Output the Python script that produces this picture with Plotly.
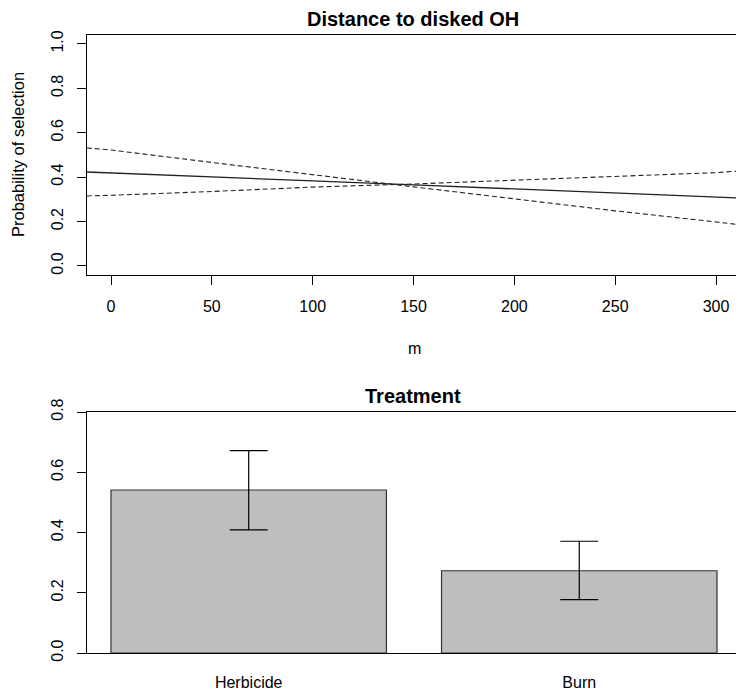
import plotly.graph_objects as go

# ---- data: top panel (predicted probability vs distance) ----
dist_m = [-12, 0, 50, 100, 150, 200, 250, 300, 312]
prob_fit = [0.423, 0.419, 0.401, 0.383, 0.365, 0.347, 0.329, 0.311, 0.306]
prob_ci_a = [0.531, 0.522, 0.466, 0.410, 0.356, 0.302, 0.248, 0.198, 0.185]
prob_ci_b = [0.315, 0.318, 0.335, 0.355, 0.369, 0.386, 0.405, 0.420, 0.428]
x_ticks = [0, 50, 100, 150, 200, 250, 300]
y_ticks_top = [0.0, 0.2, 0.4, 0.6, 0.8, 1.0]

# ---- data: bottom panel (treatment) ----
treatments = ["Herbicide", "Burn"]
treat_pos = [0.7, 1.9]
treat_prob = [0.541, 0.273]
treat_upper = [0.672, 0.371]
treat_lower = [0.409, 0.177]
y_ticks_bot = [0.0, 0.2, 0.4, 0.6, 0.8]

W, H = 736, 696
FONT = "Liberation Sans, Arial, sans-serif"

def px_x(p):
    return p / W

def px_y(p):
    return 1 - p / H

fig = go.Figure()

line_col = "#222222"
fig.add_trace(go.Scatter(x=dist_m, y=prob_fit, mode="lines",
                         line=dict(color=line_col, width=1.3),
                         xaxis="x", yaxis="y", showlegend=False))
fig.add_trace(go.Scatter(x=dist_m, y=prob_ci_a, mode="lines",
                         line=dict(color=line_col, width=1.1, dash="5px,3px"),
                         xaxis="x", yaxis="y", showlegend=False))
fig.add_trace(go.Scatter(x=dist_m, y=prob_ci_b, mode="lines",
                         line=dict(color=line_col, width=1.1, dash="5px,3px"),
                         xaxis="x", yaxis="y", showlegend=False))

err_plus = [u - v for u, v in zip(treat_upper, treat_prob)]
err_minus = [v - l for v, l in zip(treat_prob, treat_lower)]
fig.add_trace(go.Bar(x=treat_pos, y=treat_prob, width=[1, 1],
                     marker=dict(color="#BEBEBE", line=dict(color="#333333", width=1.2)),
                     error_y=dict(type="data", symmetric=False, array=err_plus,
                                  arrayminus=err_minus, color="black",
                                  thickness=1.2, width=19),
                     xaxis="x2", yaxis="y2", showlegend=False))

axis_common = dict(showgrid=False, zeroline=False, showline=True,
                   linecolor="black", linewidth=1,
                   tickfont=dict(family=FONT, size=16, color="black"),
                   ticks="outside", ticklen=9, tickcolor="black", tickwidth=1)

fig.update_layout(
    width=W, height=H,
    margin=dict(l=0, r=0, t=0, b=0, autoexpand=False),
    paper_bgcolor="white", plot_bgcolor="white",
    bargap=0,
    xaxis=dict(axis_common, domain=[px_x(87), 1], range=[-11.9, 309.9],
               tickvals=x_ticks, mirror=True, anchor="y",
               ticklabelstandoff=8),
    yaxis=dict(axis_common, domain=[px_y(275), px_y(35)], range=[-0.041, 1.04],
               tickvals=y_ticks_top, tickformat=".1f", tickangle=-90,
               anchor="x", mirror=False, ticklabelstandoff=8),
    xaxis2=dict(axis_common, domain=[px_x(87), 1], range=[0.113, 2.469],
                tickvals=treat_pos, ticktext=treatments, ticks="", mirror=True,
                anchor="y2", ticklabelstandoff=15),
    yaxis2=dict(axis_common, domain=[px_y(653), px_y(412)], range=[0, 0.8],
                tickvals=y_ticks_bot, tickformat=".1f", tickangle=-90,
                anchor="x2", mirror=False, ticklabelstandoff=8),
)

ann = [
    dict(text="<b>Distance to disked OH</b>", x=px_x(412.5), y=px_y(19), size=20),
    dict(text="<b>Treatment</b>", x=px_x(412.5), y=px_y(396), size=20),
    dict(text="m", x=px_x(414), y=px_y(348), size=16),
]
for a in ann:
    fig.add_annotation(text=a["text"], x=a["x"], y=a["y"], xref="paper", yref="paper",
                       xanchor="center", yanchor="middle", showarrow=False,
                       font=dict(family=FONT, size=a["size"], color="black"))
fig.add_annotation(text="Probability of selection", x=px_x(18), y=px_y(155),
                   xref="paper", yref="paper", xanchor="center", yanchor="middle",
                   textangle=-90, showarrow=False,
                   font=dict(family=FONT, size=16.5, color="black"))

fig.write_html("out.html",
               config={"displayModeBar": False, "staticPlot": True},
               post_script="document.body.style.margin='0px';"
                           "document.body.style.overflow='hidden';")
